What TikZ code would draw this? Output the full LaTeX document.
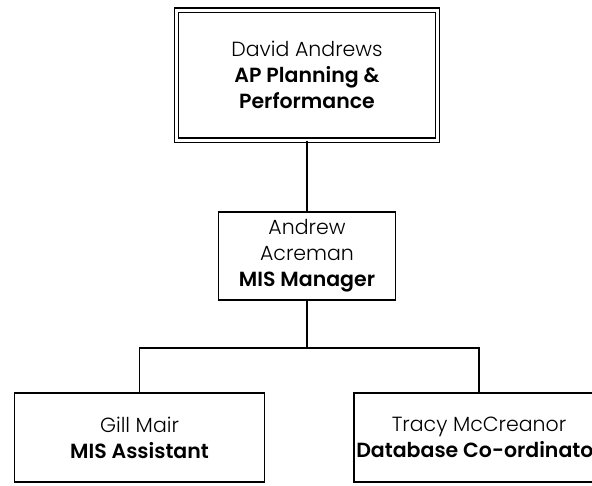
\documentclass[tikz,border=0pt]{standalone}
\usepackage{fontspec}
\setmainfont{Poppins}[BoldFont={Poppins SemiBold}]
\newfontface\thinname{Poppins Light}
\usetikzlibrary{positioning}

\newcommand{\who}[1]{{\thinname #1}}

\tikzset{
	post/.style={draw, line width=1.5pt, align=center, inner sep=0pt,
		font=\fontsize{20.5}{26}\selectfont},
	headpost/.style={post, line width=1.4pt, double, double distance=3pt,
		minimum width=261pt, minimum height=130pt},
	staffpost/.style={post, minimum width=250pt, minimum height=89pt},
	link/.style={line width=1.5pt},
}

\begin{document}
\begin{tikzpicture}[x=1pt, y=1pt]
	\useasboundingbox (0,0) rectangle (592,-485);
	
	\node[headpost] (head) at (307,-75) {\who{David Andrews}\\\textbf{AP Planning \&}\\\textbf{Performance}};
	\node[post, minimum width=177pt, minimum height=88pt] (mis) at (307,-256) {\who{Andrew}\\\who{Acreman}\\\textbf{MIS Manager}};
	
	\node[staffpost] (assist) at (139.5,-437.5) {\who{Gill Mair}\\\textbf{MIS Assistant}};
	\node[staffpost] (dbase) at (479,-437.5) {\who{Tracy McCreanor}\\\textbf{Database Co-ordinator}};
	
	\coordinate (bus) at (307,-348);
	
	\draw[link] (head) -- (mis);
	\draw[link] (mis) -- (bus);
	\draw[link] (assist.north) |- (bus) -| (dbase.north);
\end{tikzpicture}
\end{document}
